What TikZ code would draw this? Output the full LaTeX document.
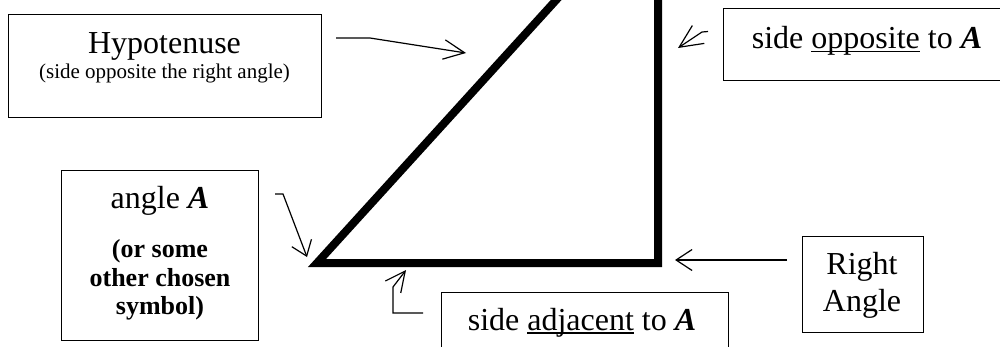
\documentclass[tikz,border=0pt]{standalone}
\usepackage{fontspec}
\setmainfont{Liberation Serif}
\usetikzlibrary{arrows.meta}
\newcommand{\myul}[1]{\leavevmode\setbox0=\hbox{#1}\rlap{\rule[-3.5pt]{\wd0}{1.3pt}}\box0\relax}
\tikzset{
  box/.style={draw, line width=1.2pt, inner sep=0pt, anchor=north west},
  lbl/.style={anchor=base, inner sep=0pt},
  big/.style={lbl, font=\fontsize{32}{37}\selectfont},
  small/.style={lbl, font=\fontsize{21}{25}\selectfont},
  boldtxt/.style={lbl, font=\fontsize{26}{29}\selectfont\bfseries},
  pointer/.style={line width=1.2pt},
  tri/.style={line width=8pt, miter limit=20}
}
\begin{document}
\begin{tikzpicture}[x=1pt,y=-1pt]
\useasboundingbox (0,0) rectangle (1000,346);
\clip (0,0) rectangle (1000,346);
\fill[white] (0,0) rectangle (1000,346);

% triangle
\coordinate (A) at (317,263);
\coordinate (C) at (658,263);
\coordinate (B) at (658,-112);
\draw[tri] (A) -- (C) -- (B) -- cycle;

% boxes
\node[box, minimum width=313pt, minimum height=103pt] (hypbox) at (8,14) {};
\node[box, minimum width=290pt, minimum height=72.5pt] (oppbox) at (723,7.5) {};
\node[box, minimum width=197pt, minimum height=170pt] (angbox) at (61,170) {};
\node[box, minimum width=287pt, minimum height=70pt] (adjbox) at (441,292) {};
\node[box, minimum width=121pt, minimum height=96pt] (rtbox) at (802,236) {};

% texts
\node[big] (thyp) at (164.5,53) {Hypotenuse};
\node[small] (thyp2) at (164.5,78) {(side opposite the right angle)};
\node[big] (topp) at (867,48.3) {side \myul{opposite} to {\bfseries\itshape A}};
\node[big] (tang) at (160,208) {angle {\bfseries\itshape A}};
\node[boldtxt] (tb1) at (160,257) {(or some};
\node[boldtxt] (tb2) at (160,286) {other chosen};
\node[boldtxt] (tb3) at (160,314) {symbol)};
\node[big] (tadj) at (582,330) {side \myul{adjacent} to {\bfseries\itshape A}};
\node[big] (trt1) at (862,274) {Right};
\node[big] (trt2) at (862,311) {Angle};

% pointers
\coordinate (h1) at (336,38);
\coordinate (h2) at (370,38);
\coordinate (h3) at (466,53);
\draw[pointer, -{Straight Barb[length=21pt,width=19.5pt]}] (h1) -- (h2) -- (h3);

\coordinate (o1) at (708,31.5);
\coordinate (o2) at (702,32);
\coordinate (o3) at (678,48);
\draw[pointer, -{Straight Barb[length=23pt,width=21.5pt]}] (o1) -- (o2) -- (o3);

\coordinate (a1) at (275,194);
\coordinate (a2) at (283,194);
\coordinate (a3) at (307,257);
\draw[pointer, -{Straight Barb[length=14pt,width=21pt]}] (a1) -- (a2) -- (a3);

\coordinate (d1) at (423,313);
\coordinate (d2) at (393,313);
\coordinate (d3) at (393,287);
\coordinate (d4) at (406,270);
\draw[pointer, -{Straight Barb[length=20pt,width=19.5pt]}] (d1) -- (d2) -- (d3) -- (d4);

\coordinate (r1) at (787,260);
\coordinate (r2) at (675,260);
\draw[pointer, -{Straight Barb[length=16pt,width=21pt]}] (r1) -- (r2);
\end{tikzpicture}
\end{document}
